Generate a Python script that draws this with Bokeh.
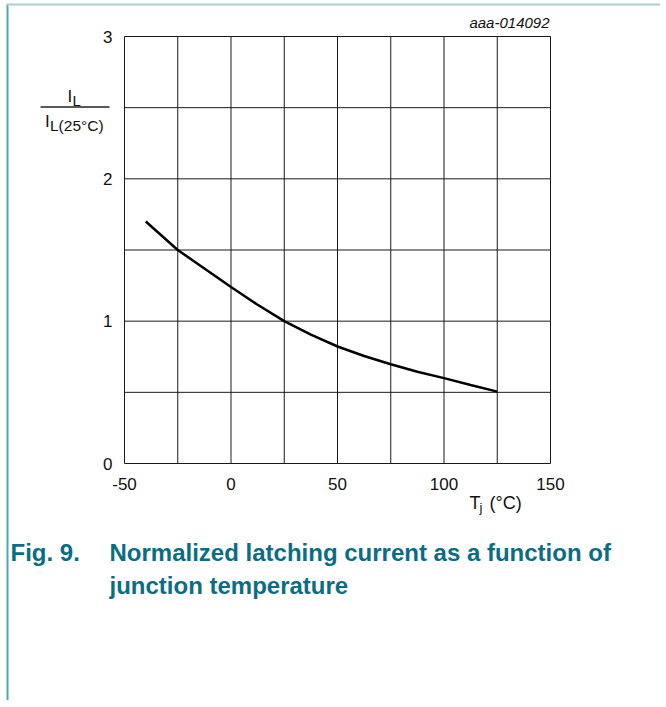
from bokeh.plotting import figure
from bokeh.models import Range1d, Label, Arrow
from bokeh.core.properties import value
from bokeh.embed import file_html
from bokeh.resources import INLINE

# ---- data ----
temp_c = [-40, -25, -12.5, 0, 12.5, 25, 37.5, 50, 62.5, 75, 87.5, 100, 112.5, 125]
il_norm = [1.70, 1.50, 1.37, 1.24, 1.115, 1.00, 0.905, 0.822, 0.755, 0.697, 0.645, 0.600, 0.552, 0.505]
x_major = [-50, 0, 50, 100, 150]
x_minor = [-25, 25, 75, 125]
y_major = [0, 1, 2, 3]
y_minor = [0.5, 1.5, 2.5]
x_labels = ["-50", "0", "50", "100", "150"]
y_labels = ["0", "1", "2", "3"]

# ---- layout (pixels) ----
W, H = 660, 700
PL, PR, PT, PB = 124, 550, 36, 463  # chart area in canvas pixels
XMIN, XMAX = x_major[0], x_major[-1]
YMIN, YMAX = y_major[0], y_major[-1]

def dx(px):
    return XMIN + (px - PL) * (XMAX - XMIN) / (PR - PL)

def dy(py):
    return YMIN + (PB - py) * (YMAX - YMIN) / (PB - PT)

p = figure(width=W, height=H, output_backend="svg", toolbar_location=None,
           x_range=Range1d(dx(0), dx(W)), y_range=Range1d(dy(H), dy(0)),
           x_axis_type=None, y_axis_type=None,
           min_border=0, min_border_left=0, min_border_right=0,
           min_border_top=0, min_border_bottom=0,
           background_fill_color="white", border_fill_color="white")
p.outline_line_color = None
p.grid.visible = False

GRID = "#1a1a1a"
xs_all = sorted(x_major + x_minor)
ys_all = sorted(y_major + y_minor)
p.segment(x0=xs_all, y0=[YMIN] * len(xs_all), x1=xs_all, y1=[YMAX] * len(xs_all),
          line_color=GRID, line_width=1)
p.segment(x0=[XMIN] * len(ys_all), y0=ys_all, x1=[XMAX] * len(ys_all), y1=ys_all,
          line_color=GRID, line_width=1)

p.line(temp_c, il_norm, line_color="black", line_width=2.5)

FONT = "Liberation Sans"
p.text(x=x_major, y=[YMIN] * len(x_major), text=x_labels, text_align="center",
       text_baseline="middle", y_offset=20, text_font=value(FONT),
       text_font_size="17px", text_color="#111111")
p.text(x=[XMIN] * len(y_major), y=y_major, text=y_labels, text_align="right",
       text_baseline="middle", x_offset=-12, text_font=value(FONT),
       text_font_size="17px", text_color="#111111")

def lab(px, py, text, size, **kw):
    p.add_layout(Label(x=dx(px), y=dy(py), text=text, text_font=FONT,
                       text_font_size=size, text_baseline="middle", **kw))

INK = "#111111"
# y axis label: I_L / I_L(25°C)
lab(67, 95.5, "I", "17px", text_color=INK)
lab(72, 99.5, "L", "15px", text_color=INK)
lab(44.5, 120.5, "I", "17px", text_color=INK)
lab(49.5, 125, "L(25°C)", "15.5px", text_color=INK)
p.add_layout(Arrow(start=None, end=None, x_start=dx(40), y_start=dy(106.5),
                   x_end=dx(109), y_end=dy(106.5), line_color="#222222", line_width=1.5))

# x axis label: T_j (°C)
lab(469, 502, "T", "18px", text_color=INK)
lab(479, 507, "j", "13px", text_color=INK)
lab(489, 502, "(°C)", "18px", text_color=INK)

# figure id
lab(549, 22, "aaa-014092", "15px", text_color=INK, text_align="right",
    text_font_style="italic")

# caption
TEAL = "#0b6d84"
lab(10, 551.5, "Fig. 9.", "24px", text_color=TEAL, text_font_style="bold")
lab(109, 551.5, "Normalized latching current as a function of", "24px",
    text_color=TEAL, text_font_style="bold")
lab(109, 584.5, "junction temperature", "24px", text_color=TEAL, text_font_style="bold")

# page rules
p.add_layout(Arrow(start=None, end=None, x_start=dx(7), y_start=dy(4),
                   x_end=dx(7), y_end=dy(H), line_color="#4aa8b4", line_width=2))
p.add_layout(Arrow(start=None, end=None, x_start=dx(6), y_start=dy(4),
                   x_end=dx(W), y_end=dy(4), line_color="#a8d0d6", line_width=2))

open("out.html", "w").write(file_html(p, INLINE))
